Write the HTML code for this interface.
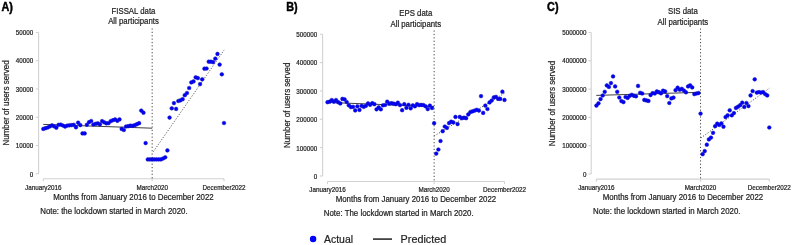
<!DOCTYPE html>
<html><head><meta charset="utf-8"><title>Figure</title>
<style>html,body{margin:0;padding:0;background:#fff;}body{width:792px;height:245px;overflow:hidden;}
svg text{font-family:"Liberation Sans", sans-serif;} svg{will-change:transform}</style></head>
<body>
<svg width="792" height="245" viewBox="0 0 792 245" style="display:block"><rect width="792" height="245" fill="#fff"/><g><text transform="translate(1.40,10.70) scale(0.95,1.08)" font-size="11.4" font-weight="bold" fill="#000" stroke="#000" stroke-width="0.45">A)</text><text transform="translate(133.50,13.60) scale(1,1.08)" font-size="7.8" text-anchor="middle" fill="#222" stroke="#222" stroke-width="0.2">FISSAL data</text><text transform="translate(133.50,24.20) scale(1,1.08)" font-size="7.8" text-anchor="middle" fill="#222" stroke="#222" stroke-width="0.2">All participants</text><line x1="38.6" y1="32.5" x2="38.6" y2="173.75" stroke="#d2d2d2" stroke-width="1.1"/><line x1="35.80" y1="32.50" x2="38.6" y2="32.50" stroke="#d2d2d2" stroke-width="1.1"/><text transform="translate(33.20,34.80) scale(1,1.08)" font-size="6.25" text-anchor="end" fill="#222" stroke="#222" stroke-width="0.2">50000</text><line x1="35.80" y1="60.75" x2="38.6" y2="60.75" stroke="#d2d2d2" stroke-width="1.1"/><text transform="translate(33.20,63.15) scale(1,1.08)" font-size="6.25" text-anchor="end" fill="#222" stroke="#222" stroke-width="0.2">40000</text><line x1="35.80" y1="89.00" x2="38.6" y2="89.00" stroke="#d2d2d2" stroke-width="1.1"/><text transform="translate(33.20,91.50) scale(1,1.08)" font-size="6.25" text-anchor="end" fill="#222" stroke="#222" stroke-width="0.2">30000</text><line x1="35.80" y1="117.25" x2="38.6" y2="117.25" stroke="#d2d2d2" stroke-width="1.1"/><text transform="translate(33.20,119.85) scale(1,1.08)" font-size="6.25" text-anchor="end" fill="#222" stroke="#222" stroke-width="0.2">20000</text><line x1="35.80" y1="145.50" x2="38.6" y2="145.50" stroke="#d2d2d2" stroke-width="1.1"/><text transform="translate(33.20,148.20) scale(1,1.08)" font-size="6.25" text-anchor="end" fill="#222" stroke="#222" stroke-width="0.2">10000</text><line x1="35.80" y1="173.75" x2="38.6" y2="173.75" stroke="#d2d2d2" stroke-width="1.1"/><text transform="translate(33.20,176.55) scale(1,1.08)" font-size="6.25" text-anchor="end" fill="#222" stroke="#222" stroke-width="0.2">0</text><text transform="translate(8.80,102.90) rotate(-90) scale(1,1.06)" font-size="8.0" text-anchor="middle" fill="#222" stroke="#222" stroke-width="0.2">Number of users served</text><line x1="43.3" y1="178.7" x2="224.0" y2="178.7" stroke="#d2d2d2" stroke-width="1.1"/><line x1="43.30" y1="178.7" x2="43.30" y2="181.30" stroke="#d2d2d2" stroke-width="1.1"/><line x1="152.16" y1="178.7" x2="152.16" y2="181.30" stroke="#d2d2d2" stroke-width="1.1"/><line x1="224.00" y1="178.7" x2="224.00" y2="181.30" stroke="#d2d2d2" stroke-width="1.1"/><text transform="translate(43.30,189.80) scale(1,1.08)" font-size="6.3" text-anchor="middle" fill="#222" stroke="#222" stroke-width="0.2">January2016</text><text transform="translate(152.16,189.80) scale(1,1.08)" font-size="6.3" text-anchor="middle" fill="#222" stroke="#222" stroke-width="0.2">March2020</text><text transform="translate(224.00,189.80) scale(1,1.08)" font-size="6.3" text-anchor="middle" fill="#222" stroke="#222" stroke-width="0.2">December2022</text><text transform="translate(133.50,199.80) scale(1,1.08)" font-size="7.88" text-anchor="middle" fill="#222" stroke="#222" stroke-width="0.2">Months from January 2016 to December 2022</text><text transform="translate(40.20,213.70) scale(1,1.08)" font-size="7.88" fill="#222" stroke="#222" stroke-width="0.2">Note: the lockdown started in March 2020.</text><line x1="152.16" y1="28.40" x2="152.16" y2="178.7" stroke="#444" stroke-width="1" stroke-dasharray="1.2 2.18"/><line x1="43.2" y1="124.4" x2="152.2" y2="128.2" stroke="#404040" stroke-width="1"/><line x1="153.4" y1="151.6" x2="224.2" y2="49.9" stroke="#505050" stroke-width="1.0" stroke-dasharray="1.1 1.7"/><circle cx="43.30" cy="128.9" r="1.85" fill="#0000ff" stroke="#1414b4" stroke-width="0.5"/><circle cx="45.48" cy="128.2" r="1.85" fill="#0000ff" stroke="#1414b4" stroke-width="0.5"/><circle cx="47.65" cy="127.5" r="1.85" fill="#0000ff" stroke="#1414b4" stroke-width="0.5"/><circle cx="49.83" cy="126.4" r="1.85" fill="#0000ff" stroke="#1414b4" stroke-width="0.5"/><circle cx="52.01" cy="125.3" r="1.85" fill="#0000ff" stroke="#1414b4" stroke-width="0.5"/><circle cx="54.19" cy="126.3" r="1.85" fill="#0000ff" stroke="#1414b4" stroke-width="0.5"/><circle cx="56.36" cy="127.7" r="1.85" fill="#0000ff" stroke="#1414b4" stroke-width="0.5"/><circle cx="58.54" cy="124.8" r="1.85" fill="#0000ff" stroke="#1414b4" stroke-width="0.5"/><circle cx="60.72" cy="124.6" r="1.85" fill="#0000ff" stroke="#1414b4" stroke-width="0.5"/><circle cx="62.89" cy="125.5" r="1.85" fill="#0000ff" stroke="#1414b4" stroke-width="0.5"/><circle cx="65.07" cy="126.6" r="1.85" fill="#0000ff" stroke="#1414b4" stroke-width="0.5"/><circle cx="67.25" cy="125.6" r="1.85" fill="#0000ff" stroke="#1414b4" stroke-width="0.5"/><circle cx="69.43" cy="125.3" r="1.85" fill="#0000ff" stroke="#1414b4" stroke-width="0.5"/><circle cx="71.60" cy="125.1" r="1.85" fill="#0000ff" stroke="#1414b4" stroke-width="0.5"/><circle cx="73.78" cy="124.8" r="1.85" fill="#0000ff" stroke="#1414b4" stroke-width="0.5"/><circle cx="75.96" cy="127.3" r="1.85" fill="#0000ff" stroke="#1414b4" stroke-width="0.5"/><circle cx="78.13" cy="122.7" r="1.85" fill="#0000ff" stroke="#1414b4" stroke-width="0.5"/><circle cx="80.31" cy="125.1" r="1.85" fill="#0000ff" stroke="#1414b4" stroke-width="0.5"/><circle cx="82.49" cy="133.4" r="1.85" fill="#0000ff" stroke="#1414b4" stroke-width="0.5"/><circle cx="84.67" cy="133.4" r="1.85" fill="#0000ff" stroke="#1414b4" stroke-width="0.5"/><circle cx="86.84" cy="124.8" r="1.85" fill="#0000ff" stroke="#1414b4" stroke-width="0.5"/><circle cx="89.02" cy="122.2" r="1.85" fill="#0000ff" stroke="#1414b4" stroke-width="0.5"/><circle cx="91.20" cy="121.0" r="1.85" fill="#0000ff" stroke="#1414b4" stroke-width="0.5"/><circle cx="93.37" cy="124.5" r="1.85" fill="#0000ff" stroke="#1414b4" stroke-width="0.5"/><circle cx="95.55" cy="123.8" r="1.85" fill="#0000ff" stroke="#1414b4" stroke-width="0.5"/><circle cx="97.73" cy="123.3" r="1.85" fill="#0000ff" stroke="#1414b4" stroke-width="0.5"/><circle cx="99.90" cy="124.3" r="1.85" fill="#0000ff" stroke="#1414b4" stroke-width="0.5"/><circle cx="102.08" cy="121.1" r="1.85" fill="#0000ff" stroke="#1414b4" stroke-width="0.5"/><circle cx="104.26" cy="122.3" r="1.85" fill="#0000ff" stroke="#1414b4" stroke-width="0.5"/><circle cx="106.44" cy="123.3" r="1.85" fill="#0000ff" stroke="#1414b4" stroke-width="0.5"/><circle cx="108.61" cy="123.1" r="1.85" fill="#0000ff" stroke="#1414b4" stroke-width="0.5"/><circle cx="110.79" cy="121.1" r="1.85" fill="#0000ff" stroke="#1414b4" stroke-width="0.5"/><circle cx="112.97" cy="120.2" r="1.85" fill="#0000ff" stroke="#1414b4" stroke-width="0.5"/><circle cx="115.14" cy="119.4" r="1.85" fill="#0000ff" stroke="#1414b4" stroke-width="0.5"/><circle cx="117.32" cy="120.8" r="1.85" fill="#0000ff" stroke="#1414b4" stroke-width="0.5"/><circle cx="119.50" cy="119.4" r="1.85" fill="#0000ff" stroke="#1414b4" stroke-width="0.5"/><circle cx="121.68" cy="128.9" r="1.85" fill="#0000ff" stroke="#1414b4" stroke-width="0.5"/><circle cx="123.85" cy="130.0" r="1.85" fill="#0000ff" stroke="#1414b4" stroke-width="0.5"/><circle cx="126.03" cy="126.5" r="1.85" fill="#0000ff" stroke="#1414b4" stroke-width="0.5"/><circle cx="128.21" cy="126.2" r="1.85" fill="#0000ff" stroke="#1414b4" stroke-width="0.5"/><circle cx="130.38" cy="125.7" r="1.85" fill="#0000ff" stroke="#1414b4" stroke-width="0.5"/><circle cx="132.56" cy="125.8" r="1.85" fill="#0000ff" stroke="#1414b4" stroke-width="0.5"/><circle cx="134.74" cy="125.2" r="1.85" fill="#0000ff" stroke="#1414b4" stroke-width="0.5"/><circle cx="136.92" cy="124.2" r="1.85" fill="#0000ff" stroke="#1414b4" stroke-width="0.5"/><circle cx="139.09" cy="123.2" r="1.85" fill="#0000ff" stroke="#1414b4" stroke-width="0.5"/><circle cx="141.27" cy="110.6" r="1.85" fill="#0000ff" stroke="#1414b4" stroke-width="0.5"/><circle cx="143.45" cy="112.7" r="1.85" fill="#0000ff" stroke="#1414b4" stroke-width="0.5"/><circle cx="145.62" cy="143.1" r="1.85" fill="#0000ff" stroke="#1414b4" stroke-width="0.5"/><circle cx="147.80" cy="159.4" r="1.85" fill="#0000ff" stroke="#1414b4" stroke-width="0.5"/><circle cx="149.98" cy="159.4" r="1.85" fill="#0000ff" stroke="#1414b4" stroke-width="0.5"/><circle cx="152.16" cy="159.4" r="1.85" fill="#0000ff" stroke="#1414b4" stroke-width="0.5"/><circle cx="154.33" cy="159.4" r="1.85" fill="#0000ff" stroke="#1414b4" stroke-width="0.5"/><circle cx="156.51" cy="159.4" r="1.85" fill="#0000ff" stroke="#1414b4" stroke-width="0.5"/><circle cx="158.69" cy="159.4" r="1.85" fill="#0000ff" stroke="#1414b4" stroke-width="0.5"/><circle cx="160.86" cy="159.4" r="1.85" fill="#0000ff" stroke="#1414b4" stroke-width="0.5"/><circle cx="163.04" cy="158.5" r="1.85" fill="#0000ff" stroke="#1414b4" stroke-width="0.5"/><circle cx="165.22" cy="157.3" r="1.85" fill="#0000ff" stroke="#1414b4" stroke-width="0.5"/><circle cx="167.40" cy="150.4" r="1.85" fill="#0000ff" stroke="#1414b4" stroke-width="0.5"/><circle cx="169.57" cy="117.6" r="1.85" fill="#0000ff" stroke="#1414b4" stroke-width="0.5"/><circle cx="171.75" cy="108.3" r="1.85" fill="#0000ff" stroke="#1414b4" stroke-width="0.5"/><circle cx="173.93" cy="103.1" r="1.85" fill="#0000ff" stroke="#1414b4" stroke-width="0.5"/><circle cx="176.10" cy="108.9" r="1.85" fill="#0000ff" stroke="#1414b4" stroke-width="0.5"/><circle cx="178.28" cy="101.0" r="1.85" fill="#0000ff" stroke="#1414b4" stroke-width="0.5"/><circle cx="180.46" cy="100.3" r="1.85" fill="#0000ff" stroke="#1414b4" stroke-width="0.5"/><circle cx="182.63" cy="99.2" r="1.85" fill="#0000ff" stroke="#1414b4" stroke-width="0.5"/><circle cx="184.81" cy="95.2" r="1.85" fill="#0000ff" stroke="#1414b4" stroke-width="0.5"/><circle cx="186.99" cy="93.0" r="1.85" fill="#0000ff" stroke="#1414b4" stroke-width="0.5"/><circle cx="189.17" cy="88.0" r="1.85" fill="#0000ff" stroke="#1414b4" stroke-width="0.5"/><circle cx="191.34" cy="82.4" r="1.85" fill="#0000ff" stroke="#1414b4" stroke-width="0.5"/><circle cx="193.52" cy="81.4" r="1.85" fill="#0000ff" stroke="#1414b4" stroke-width="0.5"/><circle cx="195.70" cy="77.3" r="1.85" fill="#0000ff" stroke="#1414b4" stroke-width="0.5"/><circle cx="197.87" cy="78.1" r="1.85" fill="#0000ff" stroke="#1414b4" stroke-width="0.5"/><circle cx="200.05" cy="84.1" r="1.85" fill="#0000ff" stroke="#1414b4" stroke-width="0.5"/><circle cx="202.23" cy="79.3" r="1.85" fill="#0000ff" stroke="#1414b4" stroke-width="0.5"/><circle cx="204.41" cy="68.7" r="1.85" fill="#0000ff" stroke="#1414b4" stroke-width="0.5"/><circle cx="206.58" cy="68.5" r="1.85" fill="#0000ff" stroke="#1414b4" stroke-width="0.5"/><circle cx="208.76" cy="61.7" r="1.85" fill="#0000ff" stroke="#1414b4" stroke-width="0.5"/><circle cx="210.94" cy="61.7" r="1.85" fill="#0000ff" stroke="#1414b4" stroke-width="0.5"/><circle cx="213.11" cy="62.1" r="1.85" fill="#0000ff" stroke="#1414b4" stroke-width="0.5"/><circle cx="215.29" cy="58.6" r="1.85" fill="#0000ff" stroke="#1414b4" stroke-width="0.5"/><circle cx="217.47" cy="53.9" r="1.85" fill="#0000ff" stroke="#1414b4" stroke-width="0.5"/><circle cx="219.65" cy="64.6" r="1.85" fill="#0000ff" stroke="#1414b4" stroke-width="0.5"/><circle cx="221.82" cy="74.3" r="1.85" fill="#0000ff" stroke="#1414b4" stroke-width="0.5"/><circle cx="224.00" cy="123.0" r="1.85" fill="#0000ff" stroke="#1414b4" stroke-width="0.5"/></g><g><text transform="translate(286.20,10.70) scale(0.95,1.08)" font-size="11.4" font-weight="bold" fill="#000" stroke="#000" stroke-width="0.45">B)</text><text transform="translate(415.80,15.80) scale(1,1.08)" font-size="7.8" text-anchor="middle" fill="#222" stroke="#222" stroke-width="0.2">EPS data</text><text transform="translate(415.80,26.50) scale(1,1.08)" font-size="7.8" text-anchor="middle" fill="#222" stroke="#222" stroke-width="0.2">All participants</text><line x1="322.6" y1="34.2" x2="322.6" y2="176.0" stroke="#d2d2d2" stroke-width="1.1"/><line x1="319.80" y1="34.20" x2="322.6" y2="34.20" stroke="#d2d2d2" stroke-width="1.1"/><text transform="translate(317.20,36.90) scale(1,1.08)" font-size="6.25" text-anchor="end" fill="#222" stroke="#222" stroke-width="0.2">500000</text><line x1="319.80" y1="62.56" x2="322.6" y2="62.56" stroke="#d2d2d2" stroke-width="1.1"/><text transform="translate(317.20,65.36) scale(1,1.08)" font-size="6.25" text-anchor="end" fill="#222" stroke="#222" stroke-width="0.2">400000</text><line x1="319.80" y1="90.92" x2="322.6" y2="90.92" stroke="#d2d2d2" stroke-width="1.1"/><text transform="translate(317.20,93.82) scale(1,1.08)" font-size="6.25" text-anchor="end" fill="#222" stroke="#222" stroke-width="0.2">300000</text><line x1="319.80" y1="119.28" x2="322.6" y2="119.28" stroke="#d2d2d2" stroke-width="1.1"/><text transform="translate(317.20,122.28) scale(1,1.08)" font-size="6.25" text-anchor="end" fill="#222" stroke="#222" stroke-width="0.2">200000</text><line x1="319.80" y1="147.64" x2="322.6" y2="147.64" stroke="#d2d2d2" stroke-width="1.1"/><text transform="translate(317.20,150.74) scale(1,1.08)" font-size="6.25" text-anchor="end" fill="#222" stroke="#222" stroke-width="0.2">100000</text><line x1="319.80" y1="176.00" x2="322.6" y2="176.00" stroke="#d2d2d2" stroke-width="1.1"/><text transform="translate(317.20,179.20) scale(1,1.08)" font-size="6.25" text-anchor="end" fill="#222" stroke="#222" stroke-width="0.2">0</text><text transform="translate(289.70,105.30) rotate(-90) scale(1,1.06)" font-size="8.0" text-anchor="middle" fill="#222" stroke="#222" stroke-width="0.2">Number of users served</text><line x1="327.5" y1="181.5" x2="504.5" y2="181.5" stroke="#d2d2d2" stroke-width="1.1"/><line x1="327.50" y1="181.5" x2="327.50" y2="184.10" stroke="#d2d2d2" stroke-width="1.1"/><line x1="434.13" y1="181.5" x2="434.13" y2="184.10" stroke="#d2d2d2" stroke-width="1.1"/><line x1="504.50" y1="181.5" x2="504.50" y2="184.10" stroke="#d2d2d2" stroke-width="1.1"/><text transform="translate(327.50,191.80) scale(1,1.08)" font-size="6.3" text-anchor="middle" fill="#222" stroke="#222" stroke-width="0.2">January2016</text><text transform="translate(434.13,191.80) scale(1,1.08)" font-size="6.3" text-anchor="middle" fill="#222" stroke="#222" stroke-width="0.2">March2020</text><text transform="translate(504.50,191.80) scale(1,1.08)" font-size="6.3" text-anchor="middle" fill="#222" stroke="#222" stroke-width="0.2">December2022</text><text transform="translate(415.90,201.80) scale(1,1.08)" font-size="7.88" text-anchor="middle" fill="#222" stroke="#222" stroke-width="0.2">Months from January 2016 to December 2022</text><text transform="translate(323.80,215.90) scale(1,1.08)" font-size="7.88" fill="#222" stroke="#222" stroke-width="0.2">Note: The lockdown started in March 2020.</text><line x1="434.13" y1="30.50" x2="434.13" y2="181.5" stroke="#444" stroke-width="1" stroke-dasharray="1.2 2.18"/><line x1="327.5" y1="102.4" x2="434.1" y2="106.6" stroke="#404040" stroke-width="1"/><line x1="434.2" y1="136.0" x2="504.5" y2="93.2" stroke="#505050" stroke-width="1.0" stroke-dasharray="1.1 1.7"/><circle cx="327.50" cy="102.2" r="1.85" fill="#0000ff" stroke="#1414b4" stroke-width="0.5"/><circle cx="329.63" cy="101.7" r="1.85" fill="#0000ff" stroke="#1414b4" stroke-width="0.5"/><circle cx="331.77" cy="100.0" r="1.85" fill="#0000ff" stroke="#1414b4" stroke-width="0.5"/><circle cx="333.90" cy="101.7" r="1.85" fill="#0000ff" stroke="#1414b4" stroke-width="0.5"/><circle cx="336.03" cy="100.0" r="1.85" fill="#0000ff" stroke="#1414b4" stroke-width="0.5"/><circle cx="338.16" cy="102.2" r="1.85" fill="#0000ff" stroke="#1414b4" stroke-width="0.5"/><circle cx="340.30" cy="103.4" r="1.85" fill="#0000ff" stroke="#1414b4" stroke-width="0.5"/><circle cx="342.43" cy="98.9" r="1.85" fill="#0000ff" stroke="#1414b4" stroke-width="0.5"/><circle cx="344.56" cy="99.3" r="1.85" fill="#0000ff" stroke="#1414b4" stroke-width="0.5"/><circle cx="346.69" cy="102.0" r="1.85" fill="#0000ff" stroke="#1414b4" stroke-width="0.5"/><circle cx="348.83" cy="105.3" r="1.85" fill="#0000ff" stroke="#1414b4" stroke-width="0.5"/><circle cx="350.96" cy="107.1" r="1.85" fill="#0000ff" stroke="#1414b4" stroke-width="0.5"/><circle cx="353.09" cy="106.8" r="1.85" fill="#0000ff" stroke="#1414b4" stroke-width="0.5"/><circle cx="355.22" cy="110.4" r="1.85" fill="#0000ff" stroke="#1414b4" stroke-width="0.5"/><circle cx="357.36" cy="106.3" r="1.85" fill="#0000ff" stroke="#1414b4" stroke-width="0.5"/><circle cx="359.49" cy="109.9" r="1.85" fill="#0000ff" stroke="#1414b4" stroke-width="0.5"/><circle cx="361.62" cy="105.8" r="1.85" fill="#0000ff" stroke="#1414b4" stroke-width="0.5"/><circle cx="363.75" cy="106.8" r="1.85" fill="#0000ff" stroke="#1414b4" stroke-width="0.5"/><circle cx="365.89" cy="105.8" r="1.85" fill="#0000ff" stroke="#1414b4" stroke-width="0.5"/><circle cx="368.02" cy="103.4" r="1.85" fill="#0000ff" stroke="#1414b4" stroke-width="0.5"/><circle cx="370.15" cy="104.8" r="1.85" fill="#0000ff" stroke="#1414b4" stroke-width="0.5"/><circle cx="372.28" cy="103.2" r="1.85" fill="#0000ff" stroke="#1414b4" stroke-width="0.5"/><circle cx="374.42" cy="104.2" r="1.85" fill="#0000ff" stroke="#1414b4" stroke-width="0.5"/><circle cx="376.55" cy="109.3" r="1.85" fill="#0000ff" stroke="#1414b4" stroke-width="0.5"/><circle cx="378.68" cy="107.3" r="1.85" fill="#0000ff" stroke="#1414b4" stroke-width="0.5"/><circle cx="380.81" cy="109.3" r="1.85" fill="#0000ff" stroke="#1414b4" stroke-width="0.5"/><circle cx="382.95" cy="105.3" r="1.85" fill="#0000ff" stroke="#1414b4" stroke-width="0.5"/><circle cx="385.08" cy="105.0" r="1.85" fill="#0000ff" stroke="#1414b4" stroke-width="0.5"/><circle cx="387.21" cy="101.7" r="1.85" fill="#0000ff" stroke="#1414b4" stroke-width="0.5"/><circle cx="389.34" cy="103.7" r="1.85" fill="#0000ff" stroke="#1414b4" stroke-width="0.5"/><circle cx="391.48" cy="103.2" r="1.85" fill="#0000ff" stroke="#1414b4" stroke-width="0.5"/><circle cx="393.61" cy="103.7" r="1.85" fill="#0000ff" stroke="#1414b4" stroke-width="0.5"/><circle cx="395.74" cy="104.2" r="1.85" fill="#0000ff" stroke="#1414b4" stroke-width="0.5"/><circle cx="397.87" cy="102.7" r="1.85" fill="#0000ff" stroke="#1414b4" stroke-width="0.5"/><circle cx="400.01" cy="105.1" r="1.85" fill="#0000ff" stroke="#1414b4" stroke-width="0.5"/><circle cx="402.14" cy="110.2" r="1.85" fill="#0000ff" stroke="#1414b4" stroke-width="0.5"/><circle cx="404.27" cy="104.2" r="1.85" fill="#0000ff" stroke="#1414b4" stroke-width="0.5"/><circle cx="406.40" cy="107.8" r="1.85" fill="#0000ff" stroke="#1414b4" stroke-width="0.5"/><circle cx="408.54" cy="104.8" r="1.85" fill="#0000ff" stroke="#1414b4" stroke-width="0.5"/><circle cx="410.67" cy="108.3" r="1.85" fill="#0000ff" stroke="#1414b4" stroke-width="0.5"/><circle cx="412.80" cy="105.3" r="1.85" fill="#0000ff" stroke="#1414b4" stroke-width="0.5"/><circle cx="414.93" cy="106.3" r="1.85" fill="#0000ff" stroke="#1414b4" stroke-width="0.5"/><circle cx="417.07" cy="104.1" r="1.85" fill="#0000ff" stroke="#1414b4" stroke-width="0.5"/><circle cx="419.20" cy="105.1" r="1.85" fill="#0000ff" stroke="#1414b4" stroke-width="0.5"/><circle cx="421.33" cy="104.9" r="1.85" fill="#0000ff" stroke="#1414b4" stroke-width="0.5"/><circle cx="423.46" cy="105.1" r="1.85" fill="#0000ff" stroke="#1414b4" stroke-width="0.5"/><circle cx="425.60" cy="106.3" r="1.85" fill="#0000ff" stroke="#1414b4" stroke-width="0.5"/><circle cx="427.73" cy="109.1" r="1.85" fill="#0000ff" stroke="#1414b4" stroke-width="0.5"/><circle cx="429.86" cy="105.6" r="1.85" fill="#0000ff" stroke="#1414b4" stroke-width="0.5"/><circle cx="431.99" cy="108.0" r="1.85" fill="#0000ff" stroke="#1414b4" stroke-width="0.5"/><circle cx="434.13" cy="123.2" r="1.85" fill="#0000ff" stroke="#1414b4" stroke-width="0.5"/><circle cx="436.26" cy="153.6" r="1.85" fill="#0000ff" stroke="#1414b4" stroke-width="0.5"/><circle cx="438.39" cy="149.5" r="1.85" fill="#0000ff" stroke="#1414b4" stroke-width="0.5"/><circle cx="440.52" cy="141.0" r="1.85" fill="#0000ff" stroke="#1414b4" stroke-width="0.5"/><circle cx="442.66" cy="131.2" r="1.85" fill="#0000ff" stroke="#1414b4" stroke-width="0.5"/><circle cx="444.79" cy="126.5" r="1.85" fill="#0000ff" stroke="#1414b4" stroke-width="0.5"/><circle cx="446.92" cy="127.9" r="1.85" fill="#0000ff" stroke="#1414b4" stroke-width="0.5"/><circle cx="449.05" cy="123.1" r="1.85" fill="#0000ff" stroke="#1414b4" stroke-width="0.5"/><circle cx="451.19" cy="121.7" r="1.85" fill="#0000ff" stroke="#1414b4" stroke-width="0.5"/><circle cx="453.32" cy="122.4" r="1.85" fill="#0000ff" stroke="#1414b4" stroke-width="0.5"/><circle cx="455.45" cy="116.9" r="1.85" fill="#0000ff" stroke="#1414b4" stroke-width="0.5"/><circle cx="457.58" cy="124.1" r="1.85" fill="#0000ff" stroke="#1414b4" stroke-width="0.5"/><circle cx="459.72" cy="116.9" r="1.85" fill="#0000ff" stroke="#1414b4" stroke-width="0.5"/><circle cx="461.85" cy="118.2" r="1.85" fill="#0000ff" stroke="#1414b4" stroke-width="0.5"/><circle cx="463.98" cy="117.7" r="1.85" fill="#0000ff" stroke="#1414b4" stroke-width="0.5"/><circle cx="466.11" cy="118.2" r="1.85" fill="#0000ff" stroke="#1414b4" stroke-width="0.5"/><circle cx="468.25" cy="114.4" r="1.85" fill="#0000ff" stroke="#1414b4" stroke-width="0.5"/><circle cx="470.38" cy="112.0" r="1.85" fill="#0000ff" stroke="#1414b4" stroke-width="0.5"/><circle cx="472.51" cy="111.3" r="1.85" fill="#0000ff" stroke="#1414b4" stroke-width="0.5"/><circle cx="474.64" cy="110.6" r="1.85" fill="#0000ff" stroke="#1414b4" stroke-width="0.5"/><circle cx="476.78" cy="109.8" r="1.85" fill="#0000ff" stroke="#1414b4" stroke-width="0.5"/><circle cx="478.91" cy="110.6" r="1.85" fill="#0000ff" stroke="#1414b4" stroke-width="0.5"/><circle cx="481.04" cy="96.1" r="1.85" fill="#0000ff" stroke="#1414b4" stroke-width="0.5"/><circle cx="483.17" cy="112.9" r="1.85" fill="#0000ff" stroke="#1414b4" stroke-width="0.5"/><circle cx="485.31" cy="105.6" r="1.85" fill="#0000ff" stroke="#1414b4" stroke-width="0.5"/><circle cx="487.44" cy="109.0" r="1.85" fill="#0000ff" stroke="#1414b4" stroke-width="0.5"/><circle cx="489.57" cy="102.4" r="1.85" fill="#0000ff" stroke="#1414b4" stroke-width="0.5"/><circle cx="491.70" cy="100.5" r="1.85" fill="#0000ff" stroke="#1414b4" stroke-width="0.5"/><circle cx="493.84" cy="97.4" r="1.85" fill="#0000ff" stroke="#1414b4" stroke-width="0.5"/><circle cx="495.97" cy="96.9" r="1.85" fill="#0000ff" stroke="#1414b4" stroke-width="0.5"/><circle cx="498.10" cy="98.9" r="1.85" fill="#0000ff" stroke="#1414b4" stroke-width="0.5"/><circle cx="500.23" cy="98.9" r="1.85" fill="#0000ff" stroke="#1414b4" stroke-width="0.5"/><circle cx="502.37" cy="91.7" r="1.85" fill="#0000ff" stroke="#1414b4" stroke-width="0.5"/><circle cx="504.50" cy="99.9" r="1.85" fill="#0000ff" stroke="#1414b4" stroke-width="0.5"/></g><g><text transform="translate(547.10,10.70) scale(0.95,1.08)" font-size="11.4" font-weight="bold" fill="#000" stroke="#000" stroke-width="0.45">C)</text><text transform="translate(682.90,13.90) scale(1,1.08)" font-size="7.8" text-anchor="middle" fill="#222" stroke="#222" stroke-width="0.2">SIS data</text><text transform="translate(682.90,24.60) scale(1,1.08)" font-size="7.8" text-anchor="middle" fill="#222" stroke="#222" stroke-width="0.2">All participants</text><line x1="591.2" y1="32.5" x2="591.2" y2="174.0" stroke="#d2d2d2" stroke-width="1.1"/><line x1="588.40" y1="32.50" x2="591.2" y2="32.50" stroke="#d2d2d2" stroke-width="1.1"/><text transform="translate(586.50,34.80) scale(1,1.08)" font-size="6.25" text-anchor="end" fill="#222" stroke="#222" stroke-width="0.2">5000000</text><line x1="588.40" y1="60.80" x2="591.2" y2="60.80" stroke="#d2d2d2" stroke-width="1.1"/><text transform="translate(586.50,63.20) scale(1,1.08)" font-size="6.25" text-anchor="end" fill="#222" stroke="#222" stroke-width="0.2">4000000</text><line x1="588.40" y1="89.10" x2="591.2" y2="89.10" stroke="#d2d2d2" stroke-width="1.1"/><text transform="translate(586.50,91.60) scale(1,1.08)" font-size="6.25" text-anchor="end" fill="#222" stroke="#222" stroke-width="0.2">3000000</text><line x1="588.40" y1="117.40" x2="591.2" y2="117.40" stroke="#d2d2d2" stroke-width="1.1"/><text transform="translate(586.50,120.00) scale(1,1.08)" font-size="6.25" text-anchor="end" fill="#222" stroke="#222" stroke-width="0.2">2000000</text><line x1="588.40" y1="145.70" x2="591.2" y2="145.70" stroke="#d2d2d2" stroke-width="1.1"/><text transform="translate(586.50,148.40) scale(1,1.08)" font-size="6.25" text-anchor="end" fill="#222" stroke="#222" stroke-width="0.2">1000000</text><line x1="588.40" y1="174.00" x2="591.2" y2="174.00" stroke="#d2d2d2" stroke-width="1.1"/><text transform="translate(586.50,176.80) scale(1,1.08)" font-size="6.25" text-anchor="end" fill="#222" stroke="#222" stroke-width="0.2">0</text><text transform="translate(555.10,103.50) rotate(-90) scale(1,1.06)" font-size="8.0" text-anchor="middle" fill="#222" stroke="#222" stroke-width="0.2">Number of users served</text><line x1="596.4" y1="179.1" x2="769.3" y2="179.1" stroke="#d2d2d2" stroke-width="1.1"/><line x1="596.40" y1="179.1" x2="596.40" y2="181.70" stroke="#d2d2d2" stroke-width="1.1"/><line x1="700.56" y1="179.1" x2="700.56" y2="181.70" stroke="#d2d2d2" stroke-width="1.1"/><line x1="769.30" y1="179.1" x2="769.30" y2="181.70" stroke="#d2d2d2" stroke-width="1.1"/><text transform="translate(596.40,190.00) scale(1,1.08)" font-size="6.3" text-anchor="middle" fill="#222" stroke="#222" stroke-width="0.2">January2016</text><text transform="translate(700.56,190.00) scale(1,1.08)" font-size="6.3" text-anchor="middle" fill="#222" stroke="#222" stroke-width="0.2">March2020</text><text transform="translate(769.30,190.00) scale(1,1.08)" font-size="6.3" text-anchor="middle" fill="#222" stroke="#222" stroke-width="0.2">December2022</text><text transform="translate(682.90,200.00) scale(1,1.08)" font-size="7.88" text-anchor="middle" fill="#222" stroke="#222" stroke-width="0.2">Months from January 2016 to December 2022</text><text transform="translate(593.10,213.80) scale(1,1.08)" font-size="7.88" fill="#222" stroke="#222" stroke-width="0.2">Note: the lockdown started in March 2020.</text><line x1="700.56" y1="28.50" x2="700.56" y2="179.1" stroke="#444" stroke-width="1" stroke-dasharray="1.2 2.18"/><line x1="596.3" y1="95.4" x2="700.6" y2="92.3" stroke="#404040" stroke-width="1"/><line x1="700.8" y1="138.0" x2="769.3" y2="88.3" stroke="#505050" stroke-width="1.0" stroke-dasharray="1.1 1.7"/><circle cx="596.40" cy="105.6" r="1.85" fill="#0000ff" stroke="#1414b4" stroke-width="0.5"/><circle cx="598.48" cy="103.3" r="1.85" fill="#0000ff" stroke="#1414b4" stroke-width="0.5"/><circle cx="600.57" cy="99.1" r="1.85" fill="#0000ff" stroke="#1414b4" stroke-width="0.5"/><circle cx="602.65" cy="95.5" r="1.85" fill="#0000ff" stroke="#1414b4" stroke-width="0.5"/><circle cx="604.73" cy="91.8" r="1.85" fill="#0000ff" stroke="#1414b4" stroke-width="0.5"/><circle cx="606.82" cy="85.4" r="1.85" fill="#0000ff" stroke="#1414b4" stroke-width="0.5"/><circle cx="608.90" cy="86.9" r="1.85" fill="#0000ff" stroke="#1414b4" stroke-width="0.5"/><circle cx="610.98" cy="83.1" r="1.85" fill="#0000ff" stroke="#1414b4" stroke-width="0.5"/><circle cx="613.07" cy="76.4" r="1.85" fill="#0000ff" stroke="#1414b4" stroke-width="0.5"/><circle cx="615.15" cy="86.4" r="1.85" fill="#0000ff" stroke="#1414b4" stroke-width="0.5"/><circle cx="617.23" cy="91.8" r="1.85" fill="#0000ff" stroke="#1414b4" stroke-width="0.5"/><circle cx="619.31" cy="97.5" r="1.85" fill="#0000ff" stroke="#1414b4" stroke-width="0.5"/><circle cx="621.40" cy="101.1" r="1.85" fill="#0000ff" stroke="#1414b4" stroke-width="0.5"/><circle cx="623.48" cy="102.1" r="1.85" fill="#0000ff" stroke="#1414b4" stroke-width="0.5"/><circle cx="625.56" cy="97.0" r="1.85" fill="#0000ff" stroke="#1414b4" stroke-width="0.5"/><circle cx="627.65" cy="97.9" r="1.85" fill="#0000ff" stroke="#1414b4" stroke-width="0.5"/><circle cx="629.73" cy="95.8" r="1.85" fill="#0000ff" stroke="#1414b4" stroke-width="0.5"/><circle cx="631.81" cy="94.8" r="1.85" fill="#0000ff" stroke="#1414b4" stroke-width="0.5"/><circle cx="633.90" cy="95.8" r="1.85" fill="#0000ff" stroke="#1414b4" stroke-width="0.5"/><circle cx="635.98" cy="96.3" r="1.85" fill="#0000ff" stroke="#1414b4" stroke-width="0.5"/><circle cx="638.06" cy="85.9" r="1.85" fill="#0000ff" stroke="#1414b4" stroke-width="0.5"/><circle cx="640.15" cy="92.8" r="1.85" fill="#0000ff" stroke="#1414b4" stroke-width="0.5"/><circle cx="642.23" cy="93.5" r="1.85" fill="#0000ff" stroke="#1414b4" stroke-width="0.5"/><circle cx="644.31" cy="99.9" r="1.85" fill="#0000ff" stroke="#1414b4" stroke-width="0.5"/><circle cx="646.40" cy="100.4" r="1.85" fill="#0000ff" stroke="#1414b4" stroke-width="0.5"/><circle cx="648.48" cy="100.9" r="1.85" fill="#0000ff" stroke="#1414b4" stroke-width="0.5"/><circle cx="650.56" cy="95.1" r="1.85" fill="#0000ff" stroke="#1414b4" stroke-width="0.5"/><circle cx="652.64" cy="93.1" r="1.85" fill="#0000ff" stroke="#1414b4" stroke-width="0.5"/><circle cx="654.73" cy="93.5" r="1.85" fill="#0000ff" stroke="#1414b4" stroke-width="0.5"/><circle cx="656.81" cy="91.4" r="1.85" fill="#0000ff" stroke="#1414b4" stroke-width="0.5"/><circle cx="658.89" cy="92.2" r="1.85" fill="#0000ff" stroke="#1414b4" stroke-width="0.5"/><circle cx="660.98" cy="93.3" r="1.85" fill="#0000ff" stroke="#1414b4" stroke-width="0.5"/><circle cx="663.06" cy="90.7" r="1.85" fill="#0000ff" stroke="#1414b4" stroke-width="0.5"/><circle cx="665.14" cy="91.4" r="1.85" fill="#0000ff" stroke="#1414b4" stroke-width="0.5"/><circle cx="667.23" cy="96.1" r="1.85" fill="#0000ff" stroke="#1414b4" stroke-width="0.5"/><circle cx="669.31" cy="103.0" r="1.85" fill="#0000ff" stroke="#1414b4" stroke-width="0.5"/><circle cx="671.39" cy="98.4" r="1.85" fill="#0000ff" stroke="#1414b4" stroke-width="0.5"/><circle cx="673.48" cy="97.6" r="1.85" fill="#0000ff" stroke="#1414b4" stroke-width="0.5"/><circle cx="675.56" cy="90.2" r="1.85" fill="#0000ff" stroke="#1414b4" stroke-width="0.5"/><circle cx="677.64" cy="87.7" r="1.85" fill="#0000ff" stroke="#1414b4" stroke-width="0.5"/><circle cx="679.73" cy="89.7" r="1.85" fill="#0000ff" stroke="#1414b4" stroke-width="0.5"/><circle cx="681.81" cy="88.8" r="1.85" fill="#0000ff" stroke="#1414b4" stroke-width="0.5"/><circle cx="683.89" cy="90.5" r="1.85" fill="#0000ff" stroke="#1414b4" stroke-width="0.5"/><circle cx="685.97" cy="92.3" r="1.85" fill="#0000ff" stroke="#1414b4" stroke-width="0.5"/><circle cx="688.06" cy="86.4" r="1.85" fill="#0000ff" stroke="#1414b4" stroke-width="0.5"/><circle cx="690.14" cy="85.3" r="1.85" fill="#0000ff" stroke="#1414b4" stroke-width="0.5"/><circle cx="692.22" cy="87.4" r="1.85" fill="#0000ff" stroke="#1414b4" stroke-width="0.5"/><circle cx="694.31" cy="94.1" r="1.85" fill="#0000ff" stroke="#1414b4" stroke-width="0.5"/><circle cx="696.39" cy="93.5" r="1.85" fill="#0000ff" stroke="#1414b4" stroke-width="0.5"/><circle cx="698.47" cy="93.1" r="1.85" fill="#0000ff" stroke="#1414b4" stroke-width="0.5"/><circle cx="700.56" cy="113.6" r="1.85" fill="#0000ff" stroke="#1414b4" stroke-width="0.5"/><circle cx="702.64" cy="154.2" r="1.85" fill="#0000ff" stroke="#1414b4" stroke-width="0.5"/><circle cx="704.72" cy="151.1" r="1.85" fill="#0000ff" stroke="#1414b4" stroke-width="0.5"/><circle cx="706.81" cy="144.7" r="1.85" fill="#0000ff" stroke="#1414b4" stroke-width="0.5"/><circle cx="708.89" cy="139.4" r="1.85" fill="#0000ff" stroke="#1414b4" stroke-width="0.5"/><circle cx="710.97" cy="137.6" r="1.85" fill="#0000ff" stroke="#1414b4" stroke-width="0.5"/><circle cx="713.06" cy="132.8" r="1.85" fill="#0000ff" stroke="#1414b4" stroke-width="0.5"/><circle cx="715.14" cy="126.2" r="1.85" fill="#0000ff" stroke="#1414b4" stroke-width="0.5"/><circle cx="717.22" cy="123.6" r="1.85" fill="#0000ff" stroke="#1414b4" stroke-width="0.5"/><circle cx="719.30" cy="124.9" r="1.85" fill="#0000ff" stroke="#1414b4" stroke-width="0.5"/><circle cx="721.39" cy="123.4" r="1.85" fill="#0000ff" stroke="#1414b4" stroke-width="0.5"/><circle cx="723.47" cy="126.7" r="1.85" fill="#0000ff" stroke="#1414b4" stroke-width="0.5"/><circle cx="725.55" cy="117.1" r="1.85" fill="#0000ff" stroke="#1414b4" stroke-width="0.5"/><circle cx="727.64" cy="115.3" r="1.85" fill="#0000ff" stroke="#1414b4" stroke-width="0.5"/><circle cx="729.72" cy="110.3" r="1.85" fill="#0000ff" stroke="#1414b4" stroke-width="0.5"/><circle cx="731.80" cy="115.3" r="1.85" fill="#0000ff" stroke="#1414b4" stroke-width="0.5"/><circle cx="733.89" cy="113.1" r="1.85" fill="#0000ff" stroke="#1414b4" stroke-width="0.5"/><circle cx="735.97" cy="107.9" r="1.85" fill="#0000ff" stroke="#1414b4" stroke-width="0.5"/><circle cx="738.05" cy="106.7" r="1.85" fill="#0000ff" stroke="#1414b4" stroke-width="0.5"/><circle cx="740.14" cy="105.2" r="1.85" fill="#0000ff" stroke="#1414b4" stroke-width="0.5"/><circle cx="742.22" cy="102.7" r="1.85" fill="#0000ff" stroke="#1414b4" stroke-width="0.5"/><circle cx="744.30" cy="106.9" r="1.85" fill="#0000ff" stroke="#1414b4" stroke-width="0.5"/><circle cx="746.39" cy="103.0" r="1.85" fill="#0000ff" stroke="#1414b4" stroke-width="0.5"/><circle cx="748.47" cy="106.1" r="1.85" fill="#0000ff" stroke="#1414b4" stroke-width="0.5"/><circle cx="750.55" cy="95.4" r="1.85" fill="#0000ff" stroke="#1414b4" stroke-width="0.5"/><circle cx="752.63" cy="91.1" r="1.85" fill="#0000ff" stroke="#1414b4" stroke-width="0.5"/><circle cx="754.72" cy="79.3" r="1.85" fill="#0000ff" stroke="#1414b4" stroke-width="0.5"/><circle cx="756.80" cy="92.6" r="1.85" fill="#0000ff" stroke="#1414b4" stroke-width="0.5"/><circle cx="758.88" cy="92.1" r="1.85" fill="#0000ff" stroke="#1414b4" stroke-width="0.5"/><circle cx="760.97" cy="92.6" r="1.85" fill="#0000ff" stroke="#1414b4" stroke-width="0.5"/><circle cx="763.05" cy="92.1" r="1.85" fill="#0000ff" stroke="#1414b4" stroke-width="0.5"/><circle cx="765.13" cy="94.0" r="1.85" fill="#0000ff" stroke="#1414b4" stroke-width="0.5"/><circle cx="767.22" cy="95.4" r="1.85" fill="#0000ff" stroke="#1414b4" stroke-width="0.5"/><circle cx="769.30" cy="127.5" r="1.85" fill="#0000ff" stroke="#1414b4" stroke-width="0.5"/></g><circle cx="313.1" cy="239.0" r="3.2" fill="#0000ff"/><text transform="translate(324.00,242.50) scale(1,1.08)" font-size="10.45" fill="#222" stroke="#222" stroke-width="0.2">Actual</text><line x1="373" y1="239.1" x2="392" y2="239.1" stroke="#444" stroke-width="1.8"/><text transform="translate(400.60,242.60) scale(1,1.08)" font-size="10.8" fill="#222" stroke="#222" stroke-width="0.2">Predicted</text></svg>
</body></html>
